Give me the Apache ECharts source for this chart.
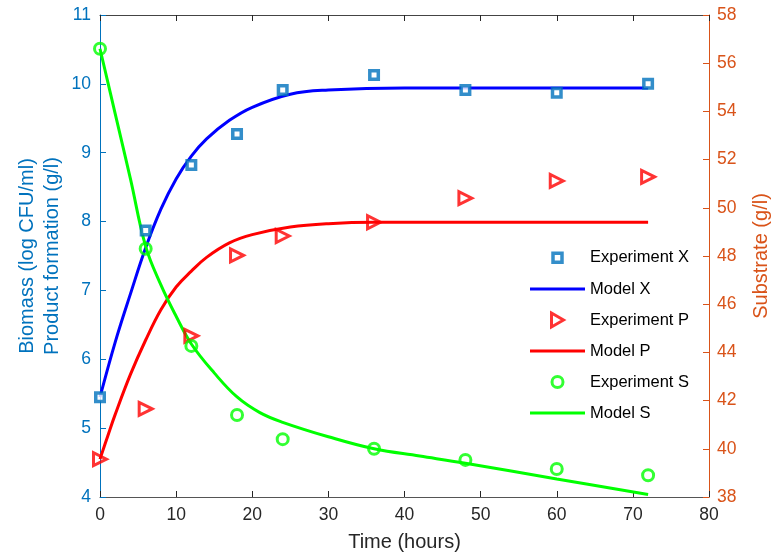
<!DOCTYPE html>
<html><head><meta charset="utf-8">
<script src="https://cdn.jsdelivr.net/npm/echarts@6/dist/echarts.min.js"></script>
<style>html,body{margin:0;padding:0;background:#fff}#c{width:780px;height:558px}</style>
</head><body><div id="c"></div>
<script>
// Experimental time points (hours)
var expTime = [0, 6, 12, 18, 24, 36, 48, 60, 72];
var expX = [5.45, 7.87, 8.82, 9.27, 9.91, 10.13, 9.91, 9.87, 10.0];
var expP = [4.55, 5.28, 6.34, 7.51, 7.79, 7.99, 8.34, 8.59, 8.65];
var expS = [56.6, 48.3, 44.27, 41.4, 40.4, 40.0, 39.54, 39.16, 38.9];

// Model curves
var modelXTime = [0, 2, 4, 6, 8, 10, 12, 14, 17, 20, 25, 30, 40, 50, 60, 72];
var modelX = [5.45, 6.25, 6.95, 7.62, 8.18, 8.62, 8.95, 9.2, 9.47, 9.66, 9.85, 9.91, 9.94, 9.94, 9.94, 9.94];
var modelPTime = [0, 1, 2, 4, 6, 8, 10, 12, 14, 17, 20, 25, 30, 36, 50, 60, 72];
var modelP = [4.55, 4.88, 5.2, 5.78, 6.28, 6.72, 7.05, 7.28, 7.48, 7.69, 7.81, 7.92, 7.97, 7.99, 7.99, 7.99, 7.99];
var modelSTime = [0, 2, 4, 6, 8, 10, 12, 15, 18, 21, 24, 30, 36, 42, 48, 60, 72];
var modelS = [56.6, 53.9, 51.2, 48.4, 46.8, 45.5, 44.35, 43.15, 42.15, 41.5, 41.1, 40.5, 40.0, 39.7, 39.4, 38.75, 38.1];

var xTicks = [0, 80, 10];
var leftTicks = [4, 11, 1];
var rightTicks = [38, 58, 2];

function pairs(t, v) { return t.map(function (x, i) { return [x, v[i]]; }); }

var FONT = 'Arial, "Liberation Sans", sans-serif';
var TICK_FS = 17.5, NAME_FS = 20, LEG_FS = 16.5;
var BLUE_AX = '#0072BD', ORANGE_AX = '#D95319', DARK = '#262626';
var LINE_ICON = 'path://M0,0L55,0L55,3L0,3Z';
var SQUARE_ICON = 'path://M0,0M14,14M2.5,2.5L11.5,2.5L11.5,11.5L2.5,11.5Z';
var TRI_ICON = 'path://M1,0L13,7L1,14Z';
var CIRCLE_ICON = 'path://M0,0M14,14M1.5,7A5.5,5.5 0 1,1 12.5,7A5.5,5.5 0 1,1 1.5,7Z';

var chart = echarts.init(document.getElementById('c'), null, { renderer: 'canvas' });
chart.setOption({
  animation: false,
  backgroundColor: '#fff',
  grid: { left: 100, right: 71, top: 15, bottom: 61 },
  legend: {
    orient: 'vertical',
    left: 525, top: 244,
    itemWidth: 55, itemHeight: 14, itemGap: 14,
    textStyle: { fontFamily: FONT, fontSize: LEG_FS, color: '#000' },
    data: [
      { name: 'Experiment X', icon: SQUARE_ICON, itemStyle: { color: '#fff', borderColor: '#0072BD', borderWidth: 3.5 } },
      { name: 'Model X', icon: LINE_ICON, itemStyle: { color: '#0000FF', borderWidth: 0 } },
      { name: 'Experiment P', icon: TRI_ICON, itemStyle: { color: '#fff', borderColor: '#FF0000', borderWidth: 3 } },
      { name: 'Model P', icon: LINE_ICON, itemStyle: { color: '#FF0000', borderWidth: 0 } },
      { name: 'Experiment S', icon: CIRCLE_ICON, itemStyle: { color: '#fff', borderColor: '#00FF00', borderWidth: 3 } },
      { name: 'Model S', icon: LINE_ICON, itemStyle: { color: '#00FF00', borderWidth: 0 } }
    ]
  },
  xAxis: [{
    type: 'value', min: xTicks[0], max: xTicks[1], interval: xTicks[2],
    name: 'Time (hours)', nameLocation: 'middle', nameGap: 35, nameMoveOverlap: false,
    nameTextStyle: { fontFamily: FONT, fontSize: NAME_FS, color: DARK },
    axisLine: { show: true, onZero: false, lineStyle: { color: '#555', width: 1 } },
    axisTick: { show: true, inside: true, length: 6, lineStyle: { color: DARK } },
    axisLabel: { fontFamily: FONT, fontSize: TICK_FS, color: DARK, margin: 9 },
    splitLine: { show: false }
  }, {
    type: 'value', position: 'top', min: xTicks[0], max: xTicks[1], interval: xTicks[2],
    axisLine: { show: true, onZero: false, lineStyle: { color: '#444', width: 1 } },
    axisTick: { show: true, inside: true, length: 6, lineStyle: { color: DARK } },
    axisLabel: { show: false }, splitLine: { show: false }
  }],
  yAxis: [{
    type: 'value', position: 'left', min: leftTicks[0], max: leftTicks[1], interval: leftTicks[2],
    name: 'Biomass (log CFU/ml)\nProduct formation (g/l)', nameLocation: 'middle', nameGap: 35, nameRotate: 90, nameMoveOverlap: false,
    nameTextStyle: { fontFamily: FONT, fontSize: NAME_FS, color: BLUE_AX, lineHeight: 25 },
    axisLine: { show: true, onZero: false, lineStyle: { color: BLUE_AX, width: 1 } },
    axisTick: { show: true, inside: true, length: 6, lineStyle: { color: BLUE_AX } },
    axisLabel: { fontFamily: FONT, fontSize: TICK_FS, color: BLUE_AX, margin: 9 },
    splitLine: { show: false }
  }, {
    type: 'value', position: 'right', min: rightTicks[0], max: rightTicks[1], interval: rightTicks[2],
    name: 'Substrate (g/l)', nameLocation: 'middle', nameGap: 42, nameRotate: 90, nameMoveOverlap: false,
    nameTextStyle: { fontFamily: FONT, fontSize: NAME_FS, color: ORANGE_AX },
    axisLine: { show: true, onZero: false, lineStyle: { color: ORANGE_AX, width: 1 } },
    axisTick: { show: true, inside: true, length: 6, lineStyle: { color: ORANGE_AX } },
    axisLabel: { fontFamily: FONT, fontSize: TICK_FS, color: ORANGE_AX, margin: 8 },
    splitLine: { show: false }
  }],
  series: [
    { name: 'Model X', type: 'line', smooth: 0.4, symbol: 'none', xAxisIndex: 0, yAxisIndex: 0,
      data: pairs(modelXTime, modelX), lineStyle: { color: '#0000FF', width: 3 }, itemStyle: { color: '#0000FF' }, z: 2 },
    { name: 'Model P', type: 'line', smooth: 0.4, symbol: 'none', xAxisIndex: 0, yAxisIndex: 0,
      data: pairs(modelPTime, modelP), lineStyle: { color: '#FF0000', width: 3 }, itemStyle: { color: '#FF0000' }, z: 2 },
    { name: 'Model S', type: 'line', smooth: 0.4, symbol: 'none', xAxisIndex: 0, yAxisIndex: 1,
      data: pairs(modelSTime, modelS), lineStyle: { color: '#00FF00', width: 3 }, itemStyle: { color: '#00FF00' }, z: 2 },
    { name: 'Experiment X', type: 'scatter', symbol: 'rect', symbolSize: 8.5, xAxisIndex: 0, yAxisIndex: 0,
      data: pairs(expTime, expX), itemStyle: { color: '#fff', borderColor: '#0072BD', borderWidth: 3.5 }, z: 3 },
    { name: 'Experiment P', type: 'scatter', symbol: 'triangle', symbolRotate: -90, symbolSize: 13, xAxisIndex: 0, yAxisIndex: 0,
      data: pairs(expTime, expP), itemStyle: { color: 'rgba(255,255,255,0)', borderColor: '#FF0000', borderWidth: 3 }, z: 3 },
    { name: 'Experiment S', type: 'scatter', symbol: 'circle', symbolSize: 11, xAxisIndex: 0, yAxisIndex: 1,
      data: pairs(expTime, expS), itemStyle: { color: 'rgba(255,255,255,0)', borderColor: '#00FF00', borderWidth: 3 }, z: 3 }
  ]
});
</script></body></html>
